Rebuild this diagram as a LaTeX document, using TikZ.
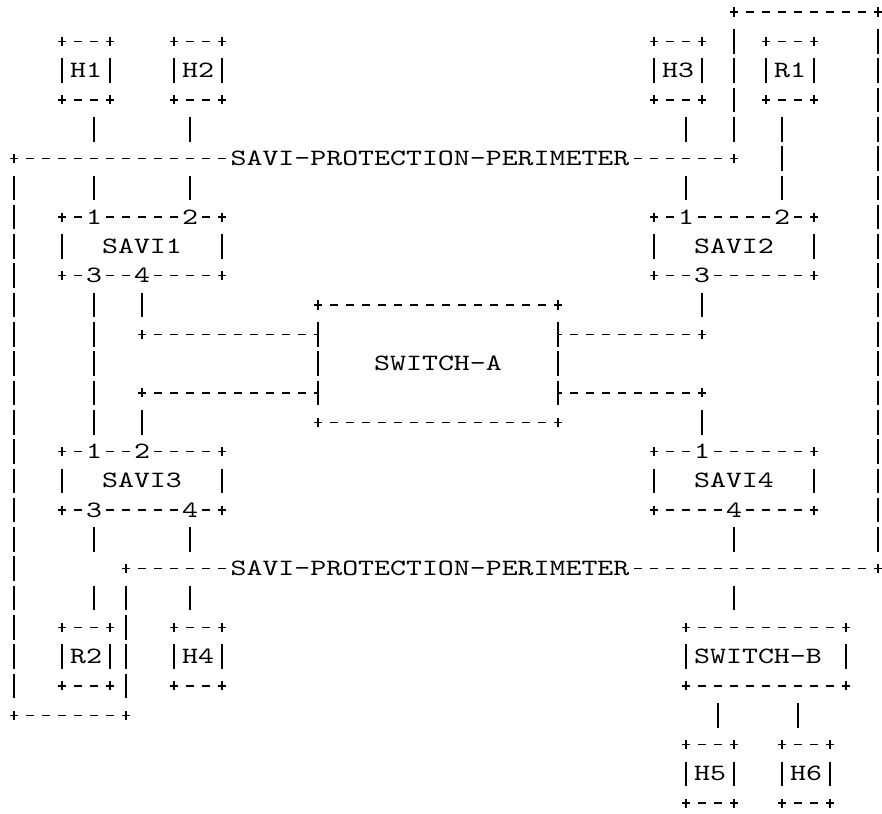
\documentclass[tikz,border=0pt]{standalone}
\usepackage{fontspec}
\setmonofont{lmmono10-regular.otf}[FakeStretch=1.3]
\usepackage{tikz}
\newcommand{\asciifont}{\ttfamily\fontsize{13.3pt}{16pt}\selectfont}

\begin{document}
\begin{tikzpicture}[
    x=0.32cm, y=-0.586cm, line width=0.7pt,
    hbar/.style={dash pattern=on 0.16cm off 0.16cm, dash phase=0.08cm},
    vbar/.style={dash pattern=on 0.492cm off 0.094cm, shorten <=0.34cm, shorten >=0.34cm},
    vcross/.style={vbar, dash pattern=on 0.492cm off 0.680cm},
    cornerarm/.pic={\draw (0,-0.154) -- (0,0.154) (-0.28,0) -- (0.28,0);},
    box/.style 2 args={rectangle, inner sep=0pt, outer sep=0pt, font=\asciifont,
        minimum width=#1*0.32cm, minimum height=#2*0.586cm,
        append after command={\pgfextra{\let\boxnode\tikzlastnode}
            (\boxnode.north west) edge[hbar] (\boxnode.north east)
            (\boxnode.south west) edge[hbar] (\boxnode.south east)
            (\boxnode.north west) edge[vbar] (\boxnode.south west)
            (\boxnode.north east) edge[vbar] (\boxnode.south east)
            (\boxnode.north west) pic {cornerarm}
            (\boxnode.north east) pic {cornerarm}
            (\boxnode.south west) pic {cornerarm}
            (\boxnode.south east) pic {cornerarm}}},
    port/.style={inner sep=0pt, outer sep=0pt, fill=white, font=\asciifont},
    perim/.style={inner sep=0pt, outer sep=0pt, fill=white, font=\asciifont}
]
\useasboundingbox (-0.875,-0.41) rectangle (54.25,27.37);

% Protection perimeter
\coordinate (pa) at (0,5);
\coordinate (pb) at (45,5);
\coordinate (pc) at (45,0);
\coordinate (pd) at (54,0);
\coordinate (pe) at (54,19);
\coordinate (pf) at (7,19);
\coordinate (pg) at (7,24);
\coordinate (ph) at (0,24);
\draw[hbar] (pa) -- (pb);
\draw[vbar] (pb) -- (pc);
\draw[hbar] (pc) -- (pd);
\draw[vbar] (pd) -- (pe);
\draw[hbar] (pf) -- (pe);
\draw[vbar] (pf) -- (pg);
\draw[hbar] (ph) -- (pg);
\draw[vbar] (ph) -- (pa);
\node[perim] (perimtop) at (26,5) {SAVI-PROTECTION-PERIMETER};
\node[perim] (perimbot) at (26,19) {SAVI-PROTECTION-PERIMETER};

% Hosts and routers
\node[box={3}{2}] (h1) at (4.5,2) {H1};
\node[box={3}{2}] (h2) at (11.5,2) {H2};
\node[box={3}{2}] (h3) at (41.5,2) {H3};
\node[box={3}{2}] (r1) at (48.5,2) {R1};
\node[box={3}{2}] (r2) at (4.5,22) {R2};
\node[box={3}{2}] (h4) at (11.5,22) {H4};
\node[box={3}{2}] (h5) at (43.5,26) {H5};
\node[box={3}{2}] (h6) at (49.5,26) {H6};

% SAVI devices and switches
\node[box={10}{2}] (savi1) at (8,8) {SAVI1};
\node[box={10}{2}] (savi2) at (45,8) {SAVI2};
\node[box={10}{2}] (savi3) at (8,16) {SAVI3};
\node[box={10}{2}] (savi4) at (45,16) {SAVI4};
\node[box={15}{4}] (swa) at (26.5,12) {SWITCH-A};
\node[box={10}{2}] (swb) at (47,22) {SWITCH-B\hphantom{X}};

% Port numbers
\node[port] (s1p1) at (5,7) {1};
\node[port] (s1p2) at (11,7) {2};
\node[port] (s1p3) at (5,9) {3};
\node[port] (s1p4) at (8,9) {4};
\node[port] (s2p1) at (42,7) {1};
\node[port] (s2p2) at (48,7) {2};
\node[port] (s2p3) at (43,9) {3};
\node[port] (s3p1) at (5,15) {1};
\node[port] (s3p2) at (8,15) {2};
\node[port] (s3p3) at (5,17) {3};
\node[port] (s3p4) at (11,17) {4};
\node[port] (s4p1) at (43,15) {1};
\node[port] (s4p4) at (45,17) {4};

% Links from hosts to SAVI devices
\draw[vcross] (s1p1 |- h1.south) -- (s1p1.center);
\draw[vcross] (s1p2 |- h2.south) -- (s1p2.center);
\draw[vcross] (s2p1 |- h3.south) -- (s2p1.center);
\draw[vbar] (s2p2 |- r1.south) -- (s2p2.center);
\draw[vbar] (s1p3.center) -- (s3p1.center);

% Links to SWITCH-A
\coordinate (a1) at (8,11);
\coordinate (a2) at (8,13);
\coordinate (a3) at (43,11);
\coordinate (a4) at (43,13);
\draw[vbar] (s1p4.center) -- (a1);
\draw[hbar] (a1) -- (a1 -| swa.west);
\draw[hbar] (a2) -- (a2 -| swa.west);
\draw[vbar] (a2) -- (s3p2.center);
\draw[hbar] (a3 -| swa.east) -- (a3);
\draw[vbar] (a3) -- (s2p3.center);
\draw[hbar] (a4 -| swa.east) -- (a4);
\draw[vbar] (a4) -- (s4p1.center);

% Links below the perimeter
\draw[vcross] (s3p3.center) -- (s3p3 |- r2.north);
\draw[vcross] (s3p4.center) -- (s3p4 |- h4.north);
\draw[vcross] (s4p4.center) -- (s4p4 |- swb.north);
\draw[vbar] ([xshift=0.16cm]h5.north |- swb.south) -- ([xshift=0.16cm]h5.north);
\draw[vbar] ([xshift=-0.16cm]h6.north |- swb.south) -- ([xshift=-0.16cm]h6.north);

% Corner marks
\foreach \c in {pa,pb,pc,pd,pe,pf,pg,ph,a1,a2,a3,a4}
    \pic at (\c) {cornerarm};

\end{tikzpicture}
\end{document}
